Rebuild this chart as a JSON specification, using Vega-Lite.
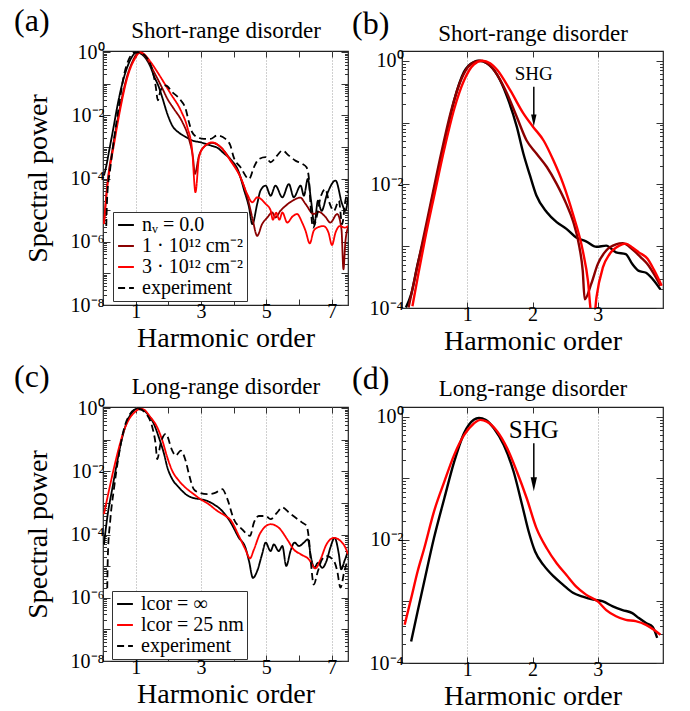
{
  "$schema": "https://vega.github.io/schema/vega-lite/v6.json",
  "padding": {"left": 13, "top": 3, "right": 0, "bottom": 0},
  "spacing": 3,
  "resolve": {"scale": {"color": "independent", "strokeDash": "independent"}},
  "datasets": {
    "dA": [
      {"s":"nᵥ = 0.0","x":0.03,"y":1.26e-4},{"s":"nᵥ = 0.0","x":0.1,"y":2.51e-4},{"s":"nᵥ = 0.0","x":0.2,"y":8.91e-4},{"s":"nᵥ = 0.0","x":0.3,"y":3.16e-3},{"s":"nᵥ = 0.0","x":0.45,"y":2.24e-2},{"s":"nᵥ = 0.0","x":0.6,"y":0.112},{"s":"nᵥ = 0.0","x":0.75,"y":0.355},{"s":"nᵥ = 0.0","x":0.9,"y":0.759},{"s":"nᵥ = 0.0","x":1.03,"y":1.0},{"s":"nᵥ = 0.0","x":1.15,"y":0.912},{"s":"nᵥ = 0.0","x":1.3,"y":0.661},{"s":"nᵥ = 0.0","x":1.45,"y":0.355},{"s":"nᵥ = 0.0","x":1.56,"y":0.178},{"s":"nᵥ = 0.0","x":1.71,"y":0.0794},{"s":"nᵥ = 0.0","x":1.82,"y":0.0355},{"s":"nᵥ = 0.0","x":1.97,"y":0.0112},{"s":"nᵥ = 0.0","x":2.12,"y":4.79e-3},{"s":"nᵥ = 0.0","x":2.33,"y":2.82e-3},{"s":"nᵥ = 0.0","x":2.53,"y":2.09e-3},{"s":"nᵥ = 0.0","x":2.73,"y":1.62e-3},{"s":"nᵥ = 0.0","x":2.99,"y":1.41e-3},{"s":"nᵥ = 0.0","x":3.3,"y":1.12e-3},{"s":"nᵥ = 0.0","x":3.5,"y":9.55e-4},{"s":"nᵥ = 0.0","x":3.7,"y":6.31e-4},{"s":"nᵥ = 0.0","x":3.9,"y":4.17e-4},{"s":"nᵥ = 0.0","x":4.16,"y":1.58e-4},{"s":"nᵥ = 0.0","x":4.31,"y":4.68e-5},{"s":"nᵥ = 0.0","x":4.47,"y":1.23e-5},{"s":"nᵥ = 0.0","x":4.57,"y":3.63e-6},{"s":"nᵥ = 0.0","x":4.72,"y":1.58e-5},{"s":"nᵥ = 0.0","x":4.82,"y":4.17e-5},{"s":"nᵥ = 0.0","x":4.98,"y":6.03e-5},{"s":"nᵥ = 0.0","x":5.13,"y":2.88e-5},{"s":"nᵥ = 0.0","x":5.28,"y":6.03e-5},{"s":"nᵥ = 0.0","x":5.49,"y":2.57e-5},{"s":"nᵥ = 0.0","x":5.69,"y":6.76e-5},{"s":"nᵥ = 0.0","x":5.84,"y":2.57e-5},{"s":"nᵥ = 0.0","x":6.05,"y":6.03e-5},{"s":"nᵥ = 0.0","x":6.15,"y":2.88e-5},{"s":"nᵥ = 0.0","x":6.27,"y":9.77e-5},{"s":"nᵥ = 0.0","x":6.37,"y":2.0e-5},{"s":"nᵥ = 0.0","x":6.47,"y":3.63e-6},{"s":"nᵥ = 0.0","x":6.58,"y":2.0e-5},{"s":"nᵥ = 0.0","x":6.69,"y":9.55e-6},{"s":"nᵥ = 0.0","x":6.86,"y":3.24e-5},{"s":"nᵥ = 0.0","x":7.12,"y":8.71e-5},{"s":"nᵥ = 0.0","x":7.32,"y":1.58e-5},{"s":"nᵥ = 0.0","x":7.42,"y":9.55e-6},{"s":"nᵥ = 0.0","x":7.5,"y":2.57e-5},
      {"s":"1·10¹² cm⁻²","x":0.03,"y":3.98e-6},{"s":"1·10¹² cm⁻²","x":0.13,"y":6.31e-5},{"s":"1·10¹² cm⁻²","x":0.3,"y":1e-3},{"s":"1·10¹² cm⁻²","x":0.5,"y":1.41e-2},{"s":"1·10¹² cm⁻²","x":0.7,"y":0.126},{"s":"1·10¹² cm⁻²","x":0.9,"y":0.501},{"s":"1·10¹² cm⁻²","x":1.1,"y":1.0},{"s":"1·10¹² cm⁻²","x":1.25,"y":0.832},{"s":"1·10¹² cm⁻²","x":1.4,"y":0.501},{"s":"1·10¹² cm⁻²","x":1.55,"y":0.251},{"s":"1·10¹² cm⁻²","x":1.7,"y":0.126},{"s":"1·10¹² cm⁻²","x":1.82,"y":0.0708},{"s":"1·10¹² cm⁻²","x":1.97,"y":0.0339},{"s":"1·10¹² cm⁻²","x":2.17,"y":0.0162},{"s":"1·10¹² cm⁻²","x":2.43,"y":6.17e-3},{"s":"1·10¹² cm⁻²","x":2.63,"y":1.82e-3},{"s":"1·10¹² cm⁻²","x":2.76,"y":4.17e-4},{"s":"1·10¹² cm⁻²","x":2.81,"y":1.41e-4},{"s":"1·10¹² cm⁻²","x":2.94,"y":5.37e-4},{"s":"1·10¹² cm⁻²","x":3.14,"y":1.12e-3},{"s":"1·10¹² cm⁻²","x":3.34,"y":1.35e-3},{"s":"1·10¹² cm⁻²","x":3.6,"y":1e-3},{"s":"1·10¹² cm⁻²","x":3.9,"y":3.98e-4},{"s":"1·10¹² cm⁻²","x":4.21,"y":1.1e-4},{"s":"1·10¹² cm⁻²","x":4.42,"y":2.57e-5},{"s":"1·10¹² cm⁻²","x":4.57,"y":5.89e-6},{"s":"1·10¹² cm⁻²","x":4.72,"y":1.55e-6},{"s":"1·10¹² cm⁻²","x":4.87,"y":3.63e-6},{"s":"1·10¹² cm⁻²","x":5.03,"y":5.89e-6},{"s":"1·10¹² cm⁻²","x":5.18,"y":8.51e-6},{"s":"1·10¹² cm⁻²","x":5.28,"y":5.89e-6},{"s":"1·10¹² cm⁻²","x":5.43,"y":9.55e-6},{"s":"1·10¹² cm⁻²","x":5.6,"y":1.41e-5},{"s":"1·10¹² cm⁻²","x":5.8,"y":2.0e-5},{"s":"1·10¹² cm⁻²","x":6.04,"y":2.51e-5},{"s":"1·10¹² cm⁻²","x":6.2,"y":1.58e-5},{"s":"1·10¹² cm⁻²","x":6.45,"y":7.59e-6},{"s":"1·10¹² cm⁻²","x":6.6,"y":8.91e-6},{"s":"1·10¹² cm⁻²","x":6.8,"y":6.31e-6},{"s":"1·10¹² cm⁻²","x":6.96,"y":4.07e-6},{"s":"1·10¹² cm⁻²","x":7.17,"y":7.59e-6},{"s":"1·10¹² cm⁻²","x":7.3,"y":2.51e-6},{"s":"1·10¹² cm⁻²","x":7.36,"y":1.35e-7},{"s":"1·10¹² cm⁻²","x":7.42,"y":1e-6},{"s":"1·10¹² cm⁻²","x":7.5,"y":2.82e-6},
      {"s":"3·10¹² cm⁻²","x":0.03,"y":3.63e-6},{"s":"3·10¹² cm⁻²","x":0.13,"y":5.25e-5},{"s":"3·10¹² cm⁻²","x":0.34,"y":1.26e-3},{"s":"3·10¹² cm⁻²","x":0.54,"y":1.82e-2},{"s":"3·10¹² cm⁻²","x":0.75,"y":0.166},{"s":"3·10¹² cm⁻²","x":0.95,"y":0.562},{"s":"3·10¹² cm⁻²","x":1.15,"y":1.0},{"s":"3·10¹² cm⁻²","x":1.3,"y":0.794},{"s":"3·10¹² cm⁻²","x":1.46,"y":0.49},{"s":"3·10¹² cm⁻²","x":1.76,"y":0.166},{"s":"3·10¹² cm⁻²","x":2.07,"y":0.049},{"s":"3·10¹² cm⁻²","x":2.38,"y":0.0145},{"s":"3·10¹² cm⁻²","x":2.58,"y":4.27e-3},{"s":"3·10¹² cm⁻²","x":2.73,"y":7.76e-4},{"s":"3·10¹² cm⁻²","x":2.83,"y":3.72e-5},{"s":"3·10¹² cm⁻²","x":2.94,"y":4.79e-4},{"s":"3·10¹² cm⁻²","x":3.09,"y":1e-3},{"s":"3·10¹² cm⁻²","x":3.34,"y":1.41e-3},{"s":"3·10¹² cm⁻²","x":3.6,"y":1e-3},{"s":"3·10¹² cm⁻²","x":3.9,"y":3.72e-4},{"s":"3·10¹² cm⁻²","x":4.21,"y":1.1e-4},{"s":"3·10¹² cm⁻²","x":4.42,"y":3.16e-5},{"s":"3·10¹² cm⁻²","x":4.57,"y":1.78e-5},{"s":"3·10¹² cm⁻²","x":4.72,"y":2.57e-5},{"s":"3·10¹² cm⁻²","x":4.98,"y":1.58e-5},{"s":"3·10¹² cm⁻²","x":5.13,"y":1e-5},{"s":"3·10¹² cm⁻²","x":5.2,"y":5.01e-6},{"s":"3·10¹² cm⁻²","x":5.3,"y":8.32e-6},{"s":"3·10¹² cm⁻²","x":5.4,"y":5.01e-6},{"s":"3·10¹² cm⁻²","x":5.49,"y":8.51e-6},{"s":"3·10¹² cm⁻²","x":5.64,"y":4.07e-6},{"s":"3·10¹² cm⁻²","x":5.8,"y":6.31e-6},{"s":"3·10¹² cm⁻²","x":5.94,"y":7.59e-6},{"s":"3·10¹² cm⁻²","x":6.1,"y":3.98e-6},{"s":"3·10¹² cm⁻²","x":6.2,"y":2.24e-6},{"s":"3·10¹² cm⁻²","x":6.33,"y":8.91e-7},{"s":"3·10¹² cm⁻²","x":6.45,"y":2.24e-6},{"s":"3·10¹² cm⁻²","x":6.56,"y":2.82e-6},{"s":"3·10¹² cm⁻²","x":6.75,"y":3.16e-6},{"s":"3·10¹² cm⁻²","x":6.9,"y":2.0e-6},{"s":"3·10¹² cm⁻²","x":7.01,"y":7.94e-7},{"s":"3·10¹² cm⁻²","x":7.12,"y":2.0e-6},{"s":"3·10¹² cm⁻²","x":7.25,"y":3.16e-6},{"s":"3·10¹² cm⁻²","x":7.4,"y":2.82e-6},{"s":"3·10¹² cm⁻²","x":7.5,"y":3.16e-6},
      {"s":"experiment","x":0.1,"y":3.16e-6},{"s":"experiment","x":0.13,"y":2.88e-5},{"s":"experiment","x":0.22,"y":2.04e-4},{"s":"experiment","x":0.34,"y":1.82e-3},{"s":"experiment","x":0.49,"y":2.09e-2},{"s":"experiment","x":0.64,"y":0.186},{"s":"experiment","x":0.8,"y":0.631},{"s":"experiment","x":0.95,"y":0.977},{"s":"experiment","x":1.1,"y":1.0},{"s":"experiment","x":1.36,"y":0.631},{"s":"experiment","x":1.51,"y":0.269},{"s":"experiment","x":1.61,"y":0.0891},{"s":"experiment","x":1.68,"y":0.0302},{"s":"experiment","x":1.76,"y":0.0617},{"s":"experiment","x":1.92,"y":0.0891},{"s":"experiment","x":2.12,"y":0.055},{"s":"experiment","x":2.38,"y":0.0302},{"s":"experiment","x":2.53,"y":0.0162},{"s":"experiment","x":2.63,"y":6.17e-3},{"s":"experiment","x":2.73,"y":2.95e-3},{"s":"experiment","x":2.89,"y":2.04e-3},{"s":"experiment","x":3.09,"y":1.82e-3},{"s":"experiment","x":3.29,"y":1.82e-3},{"s":"experiment","x":3.5,"y":2.34e-3},{"s":"experiment","x":3.75,"y":1.82e-3},{"s":"experiment","x":3.9,"y":1.12e-3},{"s":"experiment","x":4.0,"y":4.79e-4},{"s":"experiment","x":4.21,"y":2.29e-4},{"s":"experiment","x":4.47,"y":9.77e-5},{"s":"experiment","x":4.62,"y":2.29e-4},{"s":"experiment","x":4.77,"y":4.17e-4},{"s":"experiment","x":4.98,"y":4.79e-4},{"s":"experiment","x":5.13,"y":3.31e-4},{"s":"experiment","x":5.33,"y":5.37e-4},{"s":"experiment","x":5.49,"y":7.76e-4},{"s":"experiment","x":5.69,"y":5.37e-4},{"s":"experiment","x":5.89,"y":3.72e-4},{"s":"experiment","x":6.1,"y":2.95e-4},{"s":"experiment","x":6.23,"y":2.29e-4},{"s":"experiment","x":6.3,"y":1.1e-4},{"s":"experiment","x":6.35,"y":1.58e-5},{"s":"experiment","x":6.43,"y":2.82e-6},{"s":"experiment","x":6.56,"y":7.59e-6},{"s":"experiment","x":6.66,"y":2.57e-5},{"s":"experiment","x":6.81,"y":4.68e-5},{"s":"experiment","x":6.91,"y":2.0e-5},{"s":"experiment","x":7.07,"y":9.55e-6},{"s":"experiment","x":7.22,"y":2.0e-5},{"s":"experiment","x":7.32,"y":3.63e-6},{"s":"experiment","x":7.42,"y":2.0e-5},{"s":"experiment","x":7.5,"y":4.17e-5}
    ],
    "dB": [
      {"s":"nᵥ = 0.0","x":0.06,"y":1.02e-4},{"s":"nᵥ = 0.0","x":0.14,"y":1.66e-4},{"s":"nᵥ = 0.0","x":0.24,"y":5.13e-4},{"s":"nᵥ = 0.0","x":0.34,"y":1.38e-3},{"s":"nᵥ = 0.0","x":0.49,"y":7.94e-3},{"s":"nᵥ = 0.0","x":0.65,"y":0.0457},{"s":"nᵥ = 0.0","x":0.8,"y":0.229},{"s":"nᵥ = 0.0","x":0.95,"y":0.661},{"s":"nᵥ = 0.0","x":1.1,"y":0.955},{"s":"nᵥ = 0.0","x":1.18,"y":1.0},{"s":"nᵥ = 0.0","x":1.3,"y":0.912},{"s":"nᵥ = 0.0","x":1.46,"y":0.589},{"s":"nᵥ = 0.0","x":1.61,"y":0.263},{"s":"nᵥ = 0.0","x":1.76,"y":0.0851},{"s":"nᵥ = 0.0","x":1.86,"y":0.0316},{"s":"nᵥ = 0.0","x":1.96,"y":0.0141},{"s":"nᵥ = 0.0","x":2.06,"y":6.61e-3},{"s":"nᵥ = 0.0","x":2.22,"y":3.55e-3},{"s":"nᵥ = 0.0","x":2.37,"y":2.45e-3},{"s":"nᵥ = 0.0","x":2.52,"y":1.91e-3},{"s":"nᵥ = 0.0","x":2.67,"y":1.38e-3},{"s":"nᵥ = 0.0","x":2.82,"y":1.2e-3},{"s":"nᵥ = 0.0","x":2.98,"y":9.77e-4},{"s":"nᵥ = 0.0","x":3.13,"y":1.02e-3},{"s":"nᵥ = 0.0","x":3.28,"y":7.94e-4},{"s":"nᵥ = 0.0","x":3.43,"y":7.41e-4},{"s":"nᵥ = 0.0","x":3.53,"y":5.13e-4},{"s":"nᵥ = 0.0","x":3.63,"y":3.98e-4},{"s":"nᵥ = 0.0","x":3.74,"y":3.72e-4},{"s":"nᵥ = 0.0","x":3.84,"y":2.95e-4},{"s":"nᵥ = 0.0","x":3.96,"y":2.0e-4},
      {"s":"1·10¹² cm⁻²","x":0.1,"y":1.02e-4},{"s":"1·10¹² cm⁻²","x":0.2,"y":3.16e-4},{"s":"1·10¹² cm⁻²","x":0.3,"y":1e-3},{"s":"1·10¹² cm⁻²","x":0.45,"y":5.62e-3},{"s":"1·10¹² cm⁻²","x":0.6,"y":0.0316},{"s":"1·10¹² cm⁻²","x":0.75,"y":0.151},{"s":"1·10¹² cm⁻²","x":0.9,"y":0.479},{"s":"1·10¹² cm⁻²","x":1.05,"y":0.871},{"s":"1·10¹² cm⁻²","x":1.2,"y":1.0},{"s":"1·10¹² cm⁻²","x":1.35,"y":0.832},{"s":"1·10¹² cm⁻²","x":1.5,"y":0.501},{"s":"1·10¹² cm⁻²","x":1.61,"y":0.295},{"s":"1·10¹² cm⁻²","x":1.76,"y":0.123},{"s":"1·10¹² cm⁻²","x":1.91,"y":0.0513},{"s":"1·10¹² cm⁻²","x":2.06,"y":0.0316},{"s":"1·10¹² cm⁻²","x":2.22,"y":0.0191},{"s":"1·10¹² cm⁻²","x":2.37,"y":0.0102},{"s":"1·10¹² cm⁻²","x":2.52,"y":4.79e-3},{"s":"1·10¹² cm⁻²","x":2.62,"y":2.57e-3},{"s":"1·10¹² cm⁻²","x":2.72,"y":9.55e-4},{"s":"1·10¹² cm⁻²","x":2.77,"y":3.98e-4},{"s":"1·10¹² cm⁻²","x":2.8,"y":1.38e-4},{"s":"1·10¹² cm⁻²","x":2.9,"y":2.45e-4},{"s":"1·10¹² cm⁻²","x":3.0,"y":5.13e-4},{"s":"1·10¹² cm⁻²","x":3.13,"y":8.51e-4},{"s":"1·10¹² cm⁻²","x":3.28,"y":1.07e-3},{"s":"1·10¹² cm⁻²","x":3.38,"y":1.12e-3},{"s":"1·10¹² cm⁻²","x":3.53,"y":8.91e-4},{"s":"1·10¹² cm⁻²","x":3.66,"y":6.61e-4},{"s":"1·10¹² cm⁻²","x":3.76,"y":5.13e-4},{"s":"1·10¹² cm⁻²","x":3.86,"y":3.55e-4},{"s":"1·10¹² cm⁻²","x":3.96,"y":2.29e-4},
      {"s":"3·10¹² cm⁻²","x":0.16,"y":1.07e-4},{"s":"3·10¹² cm⁻²","x":0.25,"y":3.55e-4},{"s":"3·10¹² cm⁻²","x":0.35,"y":1.26e-3},{"s":"3·10¹² cm⁻²","x":0.5,"y":7.08e-3},{"s":"3·10¹² cm⁻²","x":0.65,"y":0.038},{"s":"3·10¹² cm⁻²","x":0.8,"y":0.166},{"s":"3·10¹² cm⁻²","x":0.95,"y":0.479},{"s":"3·10¹² cm⁻²","x":1.1,"y":0.871},{"s":"3·10¹² cm⁻²","x":1.23,"y":1.0},{"s":"3·10¹² cm⁻²","x":1.35,"y":0.912},{"s":"3·10¹² cm⁻²","x":1.46,"y":0.708},{"s":"3·10¹² cm⁻²","x":1.66,"y":0.331},{"s":"3·10¹² cm⁻²","x":1.86,"y":0.141},{"s":"3·10¹² cm⁻²","x":2.01,"y":0.0851},{"s":"3·10¹² cm⁻²","x":2.17,"y":0.0513},{"s":"3·10¹² cm⁻²","x":2.32,"y":0.0245},{"s":"3·10¹² cm⁻²","x":2.47,"y":0.0102},{"s":"3·10¹² cm⁻²","x":2.62,"y":3.31e-3},{"s":"3·10¹² cm⁻²","x":2.77,"y":8.51e-4},{"s":"3·10¹² cm⁻²","x":2.85,"y":2.75e-4},{"s":"3·10¹² cm⁻²","x":2.9,"y":7.94e-5},{"s":"3·10¹² cm⁻²","x":2.94,"y":6.31e-5},{"s":"3·10¹² cm⁻²","x":2.98,"y":1.48e-4},{"s":"3·10¹² cm⁻²","x":3.08,"y":4.57e-4},{"s":"3·10¹² cm⁻²","x":3.18,"y":7.41e-4},{"s":"3·10¹² cm⁻²","x":3.33,"y":1.02e-3},{"s":"3·10¹² cm⁻²","x":3.43,"y":1.1e-3},{"s":"3·10¹² cm⁻²","x":3.53,"y":9.55e-4},{"s":"3·10¹² cm⁻²","x":3.63,"y":7.94e-4},{"s":"3·10¹² cm⁻²","x":3.76,"y":6.31e-4},{"s":"3·10¹² cm⁻²","x":3.86,"y":4.17e-4},{"s":"3·10¹² cm⁻²","x":3.98,"y":2.29e-4}
    ],
    "dC": [
      {"s":"lcor = ∞","x":0.03,"y":4.9e-5},{"s":"lcor = ∞","x":0.13,"y":3.47e-4},{"s":"lcor = ∞","x":0.29,"y":3.09e-3},{"s":"lcor = ∞","x":0.44,"y":2.19e-2},{"s":"lcor = ∞","x":0.59,"y":0.12},{"s":"lcor = ∞","x":0.75,"y":0.407},{"s":"lcor = ∞","x":0.9,"y":0.76},{"s":"lcor = ∞","x":1.05,"y":0.98},{"s":"lcor = ∞","x":1.15,"y":0.97},{"s":"lcor = ∞","x":1.36,"y":0.661},{"s":"lcor = ∞","x":1.56,"y":0.316},{"s":"lcor = ∞","x":1.71,"y":0.12},{"s":"lcor = ∞","x":1.87,"y":0.0355},{"s":"lcor = ∞","x":1.97,"y":0.0135},{"s":"lcor = ∞","x":2.12,"y":5.75e-3},{"s":"lcor = ∞","x":2.33,"y":3.09e-3},{"s":"lcor = ∞","x":2.53,"y":1.91e-3},{"s":"lcor = ∞","x":2.73,"y":1.48e-3},{"s":"lcor = ∞","x":2.99,"y":1.32e-3},{"s":"lcor = ∞","x":3.19,"y":1.17e-3},{"s":"lcor = ∞","x":3.39,"y":9.12e-4},{"s":"lcor = ∞","x":3.6,"y":6.31e-4},{"s":"lcor = ∞","x":3.9,"y":2.51e-4},{"s":"lcor = ∞","x":4.16,"y":7.94e-5},{"s":"lcor = ∞","x":4.36,"y":3.89e-5},{"s":"lcor = ∞","x":4.47,"y":1.45e-5},{"s":"lcor = ∞","x":4.59,"y":4.27e-6},{"s":"lcor = ∞","x":4.72,"y":7.08e-6},{"s":"lcor = ∞","x":4.87,"y":2.4e-5},{"s":"lcor = ∞","x":4.98,"y":5.62e-5},{"s":"lcor = ∞","x":5.13,"y":3.02e-5},{"s":"lcor = ∞","x":5.23,"y":4.9e-5},{"s":"lcor = ∞","x":5.38,"y":3.02e-5},{"s":"lcor = ∞","x":5.49,"y":4.37e-5},{"s":"lcor = ∞","x":5.61,"y":1.02e-5},{"s":"lcor = ∞","x":5.74,"y":3.02e-5},{"s":"lcor = ∞","x":5.86,"y":5.62e-5},{"s":"lcor = ∞","x":6.0,"y":4.37e-5},{"s":"lcor = ∞","x":6.15,"y":5.62e-5},{"s":"lcor = ∞","x":6.27,"y":7.08e-5},{"s":"lcor = ∞","x":6.37,"y":1.86e-5},{"s":"lcor = ∞","x":6.47,"y":8.91e-6},{"s":"lcor = ∞","x":6.58,"y":1.29e-5},{"s":"lcor = ∞","x":6.71,"y":8.91e-6},{"s":"lcor = ∞","x":6.84,"y":1.45e-5},{"s":"lcor = ∞","x":6.96,"y":3.89e-5},{"s":"lcor = ∞","x":7.09,"y":7.94e-5},{"s":"lcor = ∞","x":7.22,"y":2.4e-5},{"s":"lcor = ∞","x":7.29,"y":7.94e-6},{"s":"lcor = ∞","x":7.39,"y":1.45e-5},{"s":"lcor = ∞","x":7.5,"y":3.02e-5},
      {"s":"lcor = 25 nm","x":0.03,"y":4.47e-4},{"s":"lcor = 25 nm","x":0.18,"y":2.45e-3},{"s":"lcor = 25 nm","x":0.34,"y":1.35e-2},{"s":"lcor = 25 nm","x":0.49,"y":0.0575},{"s":"lcor = 25 nm","x":0.64,"y":0.195},{"s":"lcor = 25 nm","x":0.8,"y":0.457},{"s":"lcor = 25 nm","x":0.95,"y":0.72},{"s":"lcor = 25 nm","x":1.1,"y":0.93},{"s":"lcor = 25 nm","x":1.2,"y":0.95},{"s":"lcor = 25 nm","x":1.46,"y":0.513},{"s":"lcor = 25 nm","x":1.66,"y":0.251},{"s":"lcor = 25 nm","x":1.82,"y":0.0933},{"s":"lcor = 25 nm","x":1.97,"y":0.0275},{"s":"lcor = 25 nm","x":2.12,"y":0.0105},{"s":"lcor = 25 nm","x":2.33,"y":5.01e-3},{"s":"lcor = 25 nm","x":2.58,"y":2.75e-3},{"s":"lcor = 25 nm","x":2.78,"y":1.91e-3},{"s":"lcor = 25 nm","x":2.99,"y":1.32e-3},{"s":"lcor = 25 nm","x":3.24,"y":9.12e-4},{"s":"lcor = 25 nm","x":3.5,"y":5.62e-4},{"s":"lcor = 25 nm","x":3.75,"y":3.89e-4},{"s":"lcor = 25 nm","x":3.9,"y":2.95e-4},{"s":"lcor = 25 nm","x":4.16,"y":9.12e-5},{"s":"lcor = 25 nm","x":4.36,"y":3.39e-5},{"s":"lcor = 25 nm","x":4.5,"y":1.78e-5},{"s":"lcor = 25 nm","x":4.62,"y":3.39e-5},{"s":"lcor = 25 nm","x":4.82,"y":1.15e-4},{"s":"lcor = 25 nm","x":5.13,"y":2.14e-4},{"s":"lcor = 25 nm","x":5.38,"y":1.66e-4},{"s":"lcor = 25 nm","x":5.64,"y":7.08e-5},{"s":"lcor = 25 nm","x":5.84,"y":3.39e-5},{"s":"lcor = 25 nm","x":6.05,"y":2.4e-5},{"s":"lcor = 25 nm","x":6.3,"y":1.66e-5},{"s":"lcor = 25 nm","x":6.5,"y":8.51e-6},{"s":"lcor = 25 nm","x":6.66,"y":1.66e-5},{"s":"lcor = 25 nm","x":6.84,"y":4.9e-5},{"s":"lcor = 25 nm","x":7.07,"y":7.94e-5},{"s":"lcor = 25 nm","x":7.27,"y":6.31e-5},{"s":"lcor = 25 nm","x":7.42,"y":3.89e-5},{"s":"lcor = 25 nm","x":7.5,"y":2.4e-5},
      {"s":"experiment","x":0.13,"y":2.0e-6},{"s":"experiment","x":0.15,"y":2.4e-5},{"s":"experiment","x":0.22,"y":2.69e-4},{"s":"experiment","x":0.34,"y":3.09e-3},{"s":"experiment","x":0.49,"y":0.0355},{"s":"experiment","x":0.64,"y":0.219},{"s":"experiment","x":0.8,"y":0.589},{"s":"experiment","x":0.95,"y":0.89},{"s":"experiment","x":1.1,"y":0.95},{"s":"experiment","x":1.36,"y":0.589},{"s":"experiment","x":1.51,"y":0.251},{"s":"experiment","x":1.61,"y":0.0741},{"s":"experiment","x":1.66,"y":0.0245},{"s":"experiment","x":1.76,"y":0.0741},{"s":"experiment","x":1.92,"y":0.155},{"s":"experiment","x":2.12,"y":0.0457},{"s":"experiment","x":2.22,"y":0.0316},{"s":"experiment","x":2.38,"y":0.0457},{"s":"experiment","x":2.53,"y":0.0219},{"s":"experiment","x":2.63,"y":8.32e-3},{"s":"experiment","x":2.78,"y":2.75e-3},{"s":"experiment","x":2.94,"y":2.14e-3},{"s":"experiment","x":3.19,"y":1.91e-3},{"s":"experiment","x":3.45,"y":2.14e-3},{"s":"experiment","x":3.65,"y":2.75e-3},{"s":"experiment","x":3.8,"y":1.41e-3},{"s":"experiment","x":4.0,"y":3.16e-4},{"s":"experiment","x":4.26,"y":1.48e-4},{"s":"experiment","x":4.5,"y":9.12e-5},{"s":"experiment","x":4.62,"y":2.4e-4},{"s":"experiment","x":4.77,"y":3.89e-4},{"s":"experiment","x":4.98,"y":3.89e-4},{"s":"experiment","x":5.13,"y":3.09e-4},{"s":"experiment","x":5.33,"y":5.01e-4},{"s":"experiment","x":5.49,"y":7.24e-4},{"s":"experiment","x":5.69,"y":5.01e-4},{"s":"experiment","x":5.89,"y":3.47e-4},{"s":"experiment","x":6.1,"y":2.4e-4},{"s":"experiment","x":6.23,"y":1.91e-4},{"s":"experiment","x":6.3,"y":7.94e-5},{"s":"experiment","x":6.37,"y":1.15e-5},{"s":"experiment","x":6.45,"y":2.63e-6},{"s":"experiment","x":6.58,"y":7.08e-6},{"s":"experiment","x":6.71,"y":1.66e-5},{"s":"experiment","x":6.86,"y":2.09e-5},{"s":"experiment","x":7.07,"y":1.45e-5},{"s":"experiment","x":7.17,"y":7.08e-6},{"s":"experiment","x":7.27,"y":2.09e-6},{"s":"experiment","x":7.39,"y":7.08e-6},{"s":"experiment","x":7.5,"y":1.66e-5}
    ],
    "dD": [
      {"s":"lcor = ∞","x":0.14,"y":2.24e-4},{"s":"lcor = ∞","x":0.24,"y":6.92e-4},{"s":"lcor = ∞","x":0.34,"y":2.09e-3},{"s":"lcor = ∞","x":0.49,"y":0.0107},{"s":"lcor = ∞","x":0.65,"y":0.0479},{"s":"lcor = ∞","x":0.8,"y":0.186},{"s":"lcor = ∞","x":0.95,"y":0.537},{"s":"lcor = ∞","x":1.1,"y":0.891},{"s":"lcor = ∞","x":1.18,"y":0.955},{"s":"lcor = ∞","x":1.28,"y":0.891},{"s":"lcor = ∞","x":1.41,"y":0.646},{"s":"lcor = ∞","x":1.56,"y":0.347},{"s":"lcor = ∞","x":1.71,"y":0.129},{"s":"lcor = ∞","x":1.84,"y":0.0372},{"s":"lcor = ∞","x":1.94,"y":0.0138},{"s":"lcor = ∞","x":2.04,"y":6.46e-3},{"s":"lcor = ∞","x":2.17,"y":3.89e-3},{"s":"lcor = ∞","x":2.32,"y":2.57e-3},{"s":"lcor = ∞","x":2.47,"y":1.86e-3},{"s":"lcor = ∞","x":2.62,"y":1.38e-3},{"s":"lcor = ∞","x":2.77,"y":1.2e-3},{"s":"lcor = ∞","x":2.93,"y":1.07e-3},{"s":"lcor = ∞","x":3.08,"y":1e-3},{"s":"lcor = ∞","x":3.23,"y":8.32e-4},{"s":"lcor = ∞","x":3.38,"y":7.24e-4},{"s":"lcor = ∞","x":3.53,"y":6.46e-4},{"s":"lcor = ∞","x":3.63,"y":5.37e-4},{"s":"lcor = ∞","x":3.74,"y":4.47e-4},{"s":"lcor = ∞","x":3.84,"y":3.89e-4},{"s":"lcor = ∞","x":3.91,"y":2.57e-4},
      {"s":"lcor = 25 nm","x":0.04,"y":4.17e-4},{"s":"lcor = 25 nm","x":0.14,"y":1.12e-3},{"s":"lcor = 25 nm","x":0.24,"y":3.09e-3},{"s":"lcor = 25 nm","x":0.34,"y":7.24e-3},{"s":"lcor = 25 nm","x":0.49,"y":0.0288},{"s":"lcor = 25 nm","x":0.65,"y":0.0891},{"s":"lcor = 25 nm","x":0.8,"y":0.24},{"s":"lcor = 25 nm","x":0.95,"y":0.501},{"s":"lcor = 25 nm","x":1.1,"y":0.776},{"s":"lcor = 25 nm","x":1.2,"y":0.891},{"s":"lcor = 25 nm","x":1.3,"y":0.832},{"s":"lcor = 25 nm","x":1.46,"y":0.575},{"s":"lcor = 25 nm","x":1.61,"y":0.309},{"s":"lcor = 25 nm","x":1.76,"y":0.129},{"s":"lcor = 25 nm","x":1.91,"y":0.0479},{"s":"lcor = 25 nm","x":2.06,"y":0.0155},{"s":"lcor = 25 nm","x":2.22,"y":7.24e-3},{"s":"lcor = 25 nm","x":2.37,"y":4.17e-3},{"s":"lcor = 25 nm","x":2.52,"y":2.69e-3},{"s":"lcor = 25 nm","x":2.67,"y":1.74e-3},{"s":"lcor = 25 nm","x":2.82,"y":1.29e-3},{"s":"lcor = 25 nm","x":3.0,"y":1e-3},{"s":"lcor = 25 nm","x":3.13,"y":7.24e-4},{"s":"lcor = 25 nm","x":3.28,"y":5.75e-4},{"s":"lcor = 25 nm","x":3.43,"y":5.01e-4},{"s":"lcor = 25 nm","x":3.58,"y":4.79e-4},{"s":"lcor = 25 nm","x":3.74,"y":4.17e-4},{"s":"lcor = 25 nm","x":3.86,"y":3.47e-4},{"s":"lcor = 25 nm","x":3.96,"y":2.88e-4}
    ],
    "shgB": [{"x":2.02,"y":0.62,"t":"SHG","y1":0.38,"y2":0.125,"yh":0.108}],
    "shgD": [{"x":2.02,"y":0.6,"t":"SHG","y1":0.37,"y2":0.095,"yh":0.08}],
    "empty": []
  },
  "vconcat": [
    {
      "hconcat": [
        {
          "width": 245, "height": 254,
          "title": {"text": "(a)", "anchor": "start", "frame": "bounds", "fontSize": 32, "offset": 0, "dx": -10, "dy": 18},
          "layer": [
            {
              "data": {"name": "dA"},
              "mark": {"type": "line", "clip": true, "interpolate": "monotone", "strokeWidth": 1.8},
              "encoding": {
                "x": {"field": "x", "type": "quantitative", "scale": {"domain": [0, 7.5], "nice": false, "zero": false},
                  "axis": {"orient": "bottom", "title": "Harmonic order", "values": [1,2,3,4,5,6,7], "labelExpr": "datum.value % 2 == 1 ? datum.label : ''", "tickSize": -6, "labelPadding": 2, "titlePadding": 3, "grid": true, "gridOpacity": {"condition": {"test": "datum.value % 2 == 1", "value": 1}, "value": 0}, "offset": 0}},
                "y": {"field": "y", "type": "quantitative", "scale": {"type": "log", "domain": [1e-8, 1.1], "nice": false},
                  "axis": {"orient": "left", "title": "Spectral power", "titlePadding": 18, "labelPadding": 6, "labelOverlap": false, "offset": 0, "grid": false,
                    "values": [1e-8,2e-8,3e-8,4e-8,5e-8,6e-8,7e-8,8e-8,9e-8,1e-7,2e-7,3e-7,4e-7,5e-7,6e-7,7e-7,8e-7,9e-7,1e-6,2e-6,3e-6,4e-6,5e-6,6e-6,7e-6,8e-6,9e-6,1e-5,2e-5,3e-5,4e-5,5e-5,6e-5,7e-5,8e-5,9e-5,1e-4,2e-4,3e-4,4e-4,5e-4,6e-4,7e-4,8e-4,9e-4,1e-3,2e-3,3e-3,4e-3,5e-3,6e-3,7e-3,8e-3,9e-3,1e-2,2e-2,3e-2,4e-2,5e-2,6e-2,7e-2,8e-2,9e-2,1e-1,2e-1,3e-1,4e-1,5e-1,6e-1,7e-1,8e-1,9e-1,1],
                    "labelExpr": "datum.value == 1 ? '10⁰' : datum.value == 1e-2 ? '10⁻²' : datum.value == 1e-4 ? '10⁻⁴' : datum.value == 1e-6 ? '10⁻⁶' : datum.value == 1e-8 ? '10⁻⁸' : ''",
                    "tickSize": {"condition": {"test": "abs(log(datum.value)/LN10 - round(log(datum.value)/LN10)) < 0.001", "value": -7}, "value": -3.5}}},
                "color": {"field": "s", "type": "nominal", "scale": {"domain": ["nᵥ = 0.0", "1·10¹² cm⁻²", "3·10¹² cm⁻²", "experiment"], "range": ["#000000", "#8b0000", "#ff0000", "#000000"]},
                  "legend": {"orient": "none", "legendX": 10, "legendY": 161, "title": null, "labelExpr": "replace(datum.label, '·', ' · ')"}},
                "strokeDash": {"field": "s", "type": "nominal", "scale": {"domain": ["nᵥ = 0.0", "1·10¹² cm⁻²", "3·10¹² cm⁻²", "experiment"], "range": [[1,0],[1,0],[1,0],[7,4]]},
                  "legend": {"orient": "none", "legendX": 10, "legendY": 161, "title": null, "labelExpr": "replace(datum.label, '·', ' · ')"}}
              }
            },
            {
              "data": {"name": "empty"},
              "mark": {"type": "point", "opacity": 0},
              "encoding": {
                "x": {"field": "x", "type": "quantitative", "axis": {"orient": "top", "title": "Short-range disorder", "titleFontSize": 23, "titlePadding": 8, "values": [1,2,3,4,5,6,7], "labels": false, "tickSize": -6, "offset": 0, "grid": false}},
                "y": {"field": "y", "type": "quantitative", "axis": {"orient": "right", "title": null, "labels": false, "offset": 0, "grid": false,
                    "values": [1e-8,2e-8,3e-8,4e-8,5e-8,6e-8,7e-8,8e-8,9e-8,1e-7,2e-7,3e-7,4e-7,5e-7,6e-7,7e-7,8e-7,9e-7,1e-6,2e-6,3e-6,4e-6,5e-6,6e-6,7e-6,8e-6,9e-6,1e-5,2e-5,3e-5,4e-5,5e-5,6e-5,7e-5,8e-5,9e-5,1e-4,2e-4,3e-4,4e-4,5e-4,6e-4,7e-4,8e-4,9e-4,1e-3,2e-3,3e-3,4e-3,5e-3,6e-3,7e-3,8e-3,9e-3,1e-2,2e-2,3e-2,4e-2,5e-2,6e-2,7e-2,8e-2,9e-2,1e-1,2e-1,3e-1,4e-1,5e-1,6e-1,7e-1,8e-1,9e-1,1],
                    "tickSize": {"condition": {"test": "abs(log(datum.value)/LN10 - round(log(datum.value)/LN10)) < 0.001", "value": -7}, "value": -3.5}}}
              }
            }
          ],
          "resolve": {"axis": {"x": "independent", "y": "independent"}}
        },
        {
          "width": 261, "height": 257,
          "title": {"text": "(b)", "anchor": "start", "frame": "bounds", "fontSize": 32, "offset": 0, "dx": -17, "dy": 18},
          "layer": [
            {
              "data": {"name": "dB"},
              "mark": {"type": "line", "clip": true, "interpolate": "monotone", "strokeWidth": 2.4},
              "encoding": {
                "x": {"field": "x", "type": "quantitative", "scale": {"domain": [0, 4], "nice": false, "zero": false},
                  "axis": {"orient": "bottom", "title": "Harmonic order", "values": [1,2,3], "tickSize": -6, "labelPadding": 2, "titlePadding": 3, "grid": true, "gridOpacity": {"condition": {"test": "datum.value % 2 == 1", "value": 1}, "value": 0}, "offset": 0}},
                "y": {"field": "y", "type": "quantitative", "scale": {"type": "log", "domain": [1e-4, 1.44], "nice": false},
                  "axis": {"orient": "left", "title": null, "labelPadding": 6, "labelOverlap": false, "offset": 0, "grid": false,
                    "values": [1e-4,2e-4,3e-4,4e-4,5e-4,6e-4,7e-4,8e-4,9e-4,1e-3,2e-3,3e-3,4e-3,5e-3,6e-3,7e-3,8e-3,9e-3,1e-2,2e-2,3e-2,4e-2,5e-2,6e-2,7e-2,8e-2,9e-2,1e-1,2e-1,3e-1,4e-1,5e-1,6e-1,7e-1,8e-1,9e-1,1],
                    "labelExpr": "datum.value == 1 ? '10⁰' : datum.value == 1e-2 ? '10⁻²' : datum.value == 1e-4 ? '10⁻⁴' : ''",
                    "tickSize": {"condition": {"test": "abs(log(datum.value)/LN10 - round(log(datum.value)/LN10)) < 0.001", "value": -7}, "value": -3.5}}},
                "color": {"field": "s", "type": "nominal", "scale": {"domain": ["nᵥ = 0.0", "1·10¹² cm⁻²", "3·10¹² cm⁻²"], "range": ["#000000", "#8b0000", "#ff0000"]}, "legend": null}
              }
            },
            {
              "data": {"name": "shgB"},
              "mark": {"type": "text", "fontSize": 19, "baseline": "middle", "align": "center"},
              "encoding": {
                "x": {"field": "x", "type": "quantitative", "axis": null},
                "y": {"field": "y", "type": "quantitative", "axis": null},
                "text": {"field": "t"}
              }
            },
            {
              "data": {"name": "shgB"},
              "mark": {"type": "rule", "strokeWidth": 1.5, "color": "#000"},
              "encoding": {
                "x": {"field": "x", "type": "quantitative", "axis": null},
                "y": {"field": "y1", "type": "quantitative", "axis": null},
                "y2": {"field": "y2"}
              }
            },
            {
              "data": {"name": "shgB"},
              "mark": {"type": "point", "shape": "M-0.45,-1L0,1L0.45,-1Z", "filled": true, "size": 144, "color": "#000", "opacity": 1},
              "encoding": {
                "x": {"field": "x", "type": "quantitative", "axis": null},
                "y": {"field": "yh", "type": "quantitative", "axis": null}
              }
            },
            {
              "data": {"name": "empty"},
              "mark": {"type": "point", "opacity": 0},
              "encoding": {
                "x": {"field": "x", "type": "quantitative", "axis": {"orient": "top", "title": "Short-range disorder", "titleFontSize": 23, "titlePadding": 5, "values": [1,2,3], "labels": false, "tickSize": -6, "offset": 0, "grid": false}},
                "y": {"field": "y", "type": "quantitative", "axis": {"orient": "right", "title": null, "labels": false, "offset": 0, "grid": false,
                    "values": [1e-4,2e-4,3e-4,4e-4,5e-4,6e-4,7e-4,8e-4,9e-4,1e-3,2e-3,3e-3,4e-3,5e-3,6e-3,7e-3,8e-3,9e-3,1e-2,2e-2,3e-2,4e-2,5e-2,6e-2,7e-2,8e-2,9e-2,1e-1,2e-1,3e-1,4e-1,5e-1,6e-1,7e-1,8e-1,9e-1,1],
                    "tickSize": {"condition": {"test": "abs(log(datum.value)/LN10 - round(log(datum.value)/LN10)) < 0.001", "value": -7}, "value": -3.5}}}
              }
            }
          ],
          "resolve": {"axis": {"x": "independent", "y": "independent"}}
        }
      ],
      "spacing": 1,
      "resolve": {"scale": {"color": "independent", "strokeDash": "independent"}}
    },
    {
      "hconcat": [
        {
          "width": 245, "height": 254,
          "title": {"text": "(c)", "anchor": "start", "frame": "bounds", "fontSize": 32, "offset": 0, "dx": -10, "dy": 18},
          "layer": [
            {
              "data": {"name": "dC"},
              "mark": {"type": "line", "clip": true, "interpolate": "monotone", "strokeWidth": 1.8},
              "encoding": {
                "x": {"field": "x", "type": "quantitative", "scale": {"domain": [0, 7.5], "nice": false, "zero": false},
                  "axis": {"orient": "bottom", "title": "Harmonic order", "values": [1,2,3,4,5,6,7], "labelExpr": "datum.value % 2 == 1 ? datum.label : ''", "tickSize": -6, "labelPadding": 2, "titlePadding": 3, "grid": true, "gridOpacity": {"condition": {"test": "datum.value % 2 == 1", "value": 1}, "value": 0}, "offset": 0}},
                "y": {"field": "y", "type": "quantitative", "scale": {"type": "log", "domain": [1e-8, 1.1], "nice": false},
                  "axis": {"orient": "left", "title": "Spectral power", "titlePadding": 18, "labelPadding": 6, "labelOverlap": false, "offset": 0, "grid": false,
                    "values": [1e-8,2e-8,3e-8,4e-8,5e-8,6e-8,7e-8,8e-8,9e-8,1e-7,2e-7,3e-7,4e-7,5e-7,6e-7,7e-7,8e-7,9e-7,1e-6,2e-6,3e-6,4e-6,5e-6,6e-6,7e-6,8e-6,9e-6,1e-5,2e-5,3e-5,4e-5,5e-5,6e-5,7e-5,8e-5,9e-5,1e-4,2e-4,3e-4,4e-4,5e-4,6e-4,7e-4,8e-4,9e-4,1e-3,2e-3,3e-3,4e-3,5e-3,6e-3,7e-3,8e-3,9e-3,1e-2,2e-2,3e-2,4e-2,5e-2,6e-2,7e-2,8e-2,9e-2,1e-1,2e-1,3e-1,4e-1,5e-1,6e-1,7e-1,8e-1,9e-1,1],
                    "labelExpr": "datum.value == 1 ? '10⁰' : datum.value == 1e-2 ? '10⁻²' : datum.value == 1e-4 ? '10⁻⁴' : datum.value == 1e-6 ? '10⁻⁶' : datum.value == 1e-8 ? '10⁻⁸' : ''",
                    "tickSize": {"condition": {"test": "abs(log(datum.value)/LN10 - round(log(datum.value)/LN10)) < 0.001", "value": -7}, "value": -3.5}}},
                "color": {"field": "s", "type": "nominal", "scale": {"domain": ["lcor = ∞", "lcor = 25 nm", "experiment"], "range": ["#000000", "#ff0000", "#000000"]},
                  "legend": {"orient": "none", "legendX": 9, "legendY": 184, "title": null}},
                "strokeDash": {"field": "s", "type": "nominal", "scale": {"domain": ["lcor = ∞", "lcor = 25 nm", "experiment"], "range": [[1,0],[1,0],[7,4]]},
                  "legend": {"orient": "none", "legendX": 9, "legendY": 184, "title": null}}
              }
            },
            {
              "data": {"name": "empty"},
              "mark": {"type": "point", "opacity": 0},
              "encoding": {
                "x": {"field": "x", "type": "quantitative", "axis": {"orient": "top", "title": "Long-range disorder", "titleFontSize": 23, "titlePadding": 8, "values": [1,2,3,4,5,6,7], "labels": false, "tickSize": -6, "offset": 0, "grid": false}},
                "y": {"field": "y", "type": "quantitative", "axis": {"orient": "right", "title": null, "labels": false, "offset": 0, "grid": false,
                    "values": [1e-8,2e-8,3e-8,4e-8,5e-8,6e-8,7e-8,8e-8,9e-8,1e-7,2e-7,3e-7,4e-7,5e-7,6e-7,7e-7,8e-7,9e-7,1e-6,2e-6,3e-6,4e-6,5e-6,6e-6,7e-6,8e-6,9e-6,1e-5,2e-5,3e-5,4e-5,5e-5,6e-5,7e-5,8e-5,9e-5,1e-4,2e-4,3e-4,4e-4,5e-4,6e-4,7e-4,8e-4,9e-4,1e-3,2e-3,3e-3,4e-3,5e-3,6e-3,7e-3,8e-3,9e-3,1e-2,2e-2,3e-2,4e-2,5e-2,6e-2,7e-2,8e-2,9e-2,1e-1,2e-1,3e-1,4e-1,5e-1,6e-1,7e-1,8e-1,9e-1,1],
                    "tickSize": {"condition": {"test": "abs(log(datum.value)/LN10 - round(log(datum.value)/LN10)) < 0.001", "value": -7}, "value": -3.5}}}
              }
            }
          ],
          "resolve": {"axis": {"x": "independent", "y": "independent"}}
        },
        {
          "width": 261, "height": 256,
          "title": {"text": "(d)", "anchor": "start", "frame": "bounds", "fontSize": 32, "offset": 0, "dx": -17, "dy": 18},
          "layer": [
            {
              "data": {"name": "dD"},
              "mark": {"type": "line", "clip": true, "interpolate": "monotone", "strokeWidth": 2.4},
              "encoding": {
                "x": {"field": "x", "type": "quantitative", "scale": {"domain": [0, 4], "nice": false, "zero": false},
                  "axis": {"orient": "bottom", "title": "Harmonic order", "values": [1,2,3], "tickSize": -6, "labelPadding": 2, "titlePadding": 3, "grid": true, "gridOpacity": {"condition": {"test": "datum.value % 2 == 1", "value": 1}, "value": 0}, "offset": 0}},
                "y": {"field": "y", "type": "quantitative", "scale": {"type": "log", "domain": [1e-4, 1.44], "nice": false},
                  "axis": {"orient": "left", "title": null, "labelPadding": 6, "labelOverlap": false, "offset": 0, "grid": false,
                    "values": [1e-4,2e-4,3e-4,4e-4,5e-4,6e-4,7e-4,8e-4,9e-4,1e-3,2e-3,3e-3,4e-3,5e-3,6e-3,7e-3,8e-3,9e-3,1e-2,2e-2,3e-2,4e-2,5e-2,6e-2,7e-2,8e-2,9e-2,1e-1,2e-1,3e-1,4e-1,5e-1,6e-1,7e-1,8e-1,9e-1,1],
                    "labelExpr": "datum.value == 1 ? '10⁰' : datum.value == 1e-2 ? '10⁻²' : datum.value == 1e-4 ? '10⁻⁴' : ''",
                    "tickSize": {"condition": {"test": "abs(log(datum.value)/LN10 - round(log(datum.value)/LN10)) < 0.001", "value": -7}, "value": -3.5}}},
                "color": {"field": "s", "type": "nominal", "scale": {"domain": ["lcor = ∞", "lcor = 25 nm"], "range": ["#000000", "#ff0000"]}, "legend": null}
              }
            },
            {
              "data": {"name": "shgD"},
              "mark": {"type": "text", "fontSize": 25, "baseline": "middle", "align": "center"},
              "encoding": {
                "x": {"field": "x", "type": "quantitative", "axis": null},
                "y": {"field": "y", "type": "quantitative", "axis": null},
                "text": {"field": "t"}
              }
            },
            {
              "data": {"name": "shgD"},
              "mark": {"type": "rule", "strokeWidth": 1.5, "color": "#000"},
              "encoding": {
                "x": {"field": "x", "type": "quantitative", "axis": null},
                "y": {"field": "y1", "type": "quantitative", "axis": null},
                "y2": {"field": "y2"}
              }
            },
            {
              "data": {"name": "shgD"},
              "mark": {"type": "point", "shape": "M-0.45,-1L0,1L0.45,-1Z", "filled": true, "size": 196, "color": "#000", "opacity": 1},
              "encoding": {
                "x": {"field": "x", "type": "quantitative", "axis": null},
                "y": {"field": "yh", "type": "quantitative", "axis": null}
              }
            },
            {
              "data": {"name": "empty"},
              "mark": {"type": "point", "opacity": 0},
              "encoding": {
                "x": {"field": "x", "type": "quantitative", "axis": {"orient": "top", "title": "Long-range disorder", "titleFontSize": 23, "titlePadding": 6, "values": [1,2,3], "labels": false, "tickSize": -6, "offset": 0, "grid": false}},
                "y": {"field": "y", "type": "quantitative", "axis": {"orient": "right", "title": null, "labels": false, "offset": 0, "grid": false,
                    "values": [1e-4,2e-4,3e-4,4e-4,5e-4,6e-4,7e-4,8e-4,9e-4,1e-3,2e-3,3e-3,4e-3,5e-3,6e-3,7e-3,8e-3,9e-3,1e-2,2e-2,3e-2,4e-2,5e-2,6e-2,7e-2,8e-2,9e-2,1e-1,2e-1,3e-1,4e-1,5e-1,6e-1,7e-1,8e-1,9e-1,1],
                    "tickSize": {"condition": {"test": "abs(log(datum.value)/LN10 - round(log(datum.value)/LN10)) < 0.001", "value": -7}, "value": -3.5}}}
              }
            }
          ],
          "resolve": {"axis": {"x": "independent", "y": "independent"}}
        }
      ],
      "spacing": 1,
      "resolve": {"scale": {"color": "independent", "strokeDash": "independent"}}
    }
  ],
  "config": {
    "font": "Liberation Serif",
    "view": {"stroke": "#222222", "strokeWidth": 1.2},
    "axis": {"grid": false, "labelFont": "Liberation Serif", "titleFont": "Liberation Serif", "labelFontSize": 20, "titleFontSize": 28, "titleFontWeight": "normal", "labelColor": "#000000", "titleColor": "#000000", "domain": false, "tickColor": "#333333", "tickWidth": 1, "gridColor": "#888888", "gridDash": [1, 2], "gridWidth": 0.8},
    "title": {"font": "Liberation Serif", "fontWeight": "normal", "color": "#000000"},
    "text": {"font": "Liberation Serif"},
    "legend": {"symbolType": "stroke", "symbolSize": 250, "symbolStrokeWidth": 2, "labelFont": "Liberation Serif", "labelFontSize": 20, "labelColor": "#000000", "strokeColor": "#333333", "fillColor": "#ffffff", "padding": 3, "rowPadding": 1, "labelOffset": 6, "labelLimit": 300, "cornerRadius": 0}
  }
}
